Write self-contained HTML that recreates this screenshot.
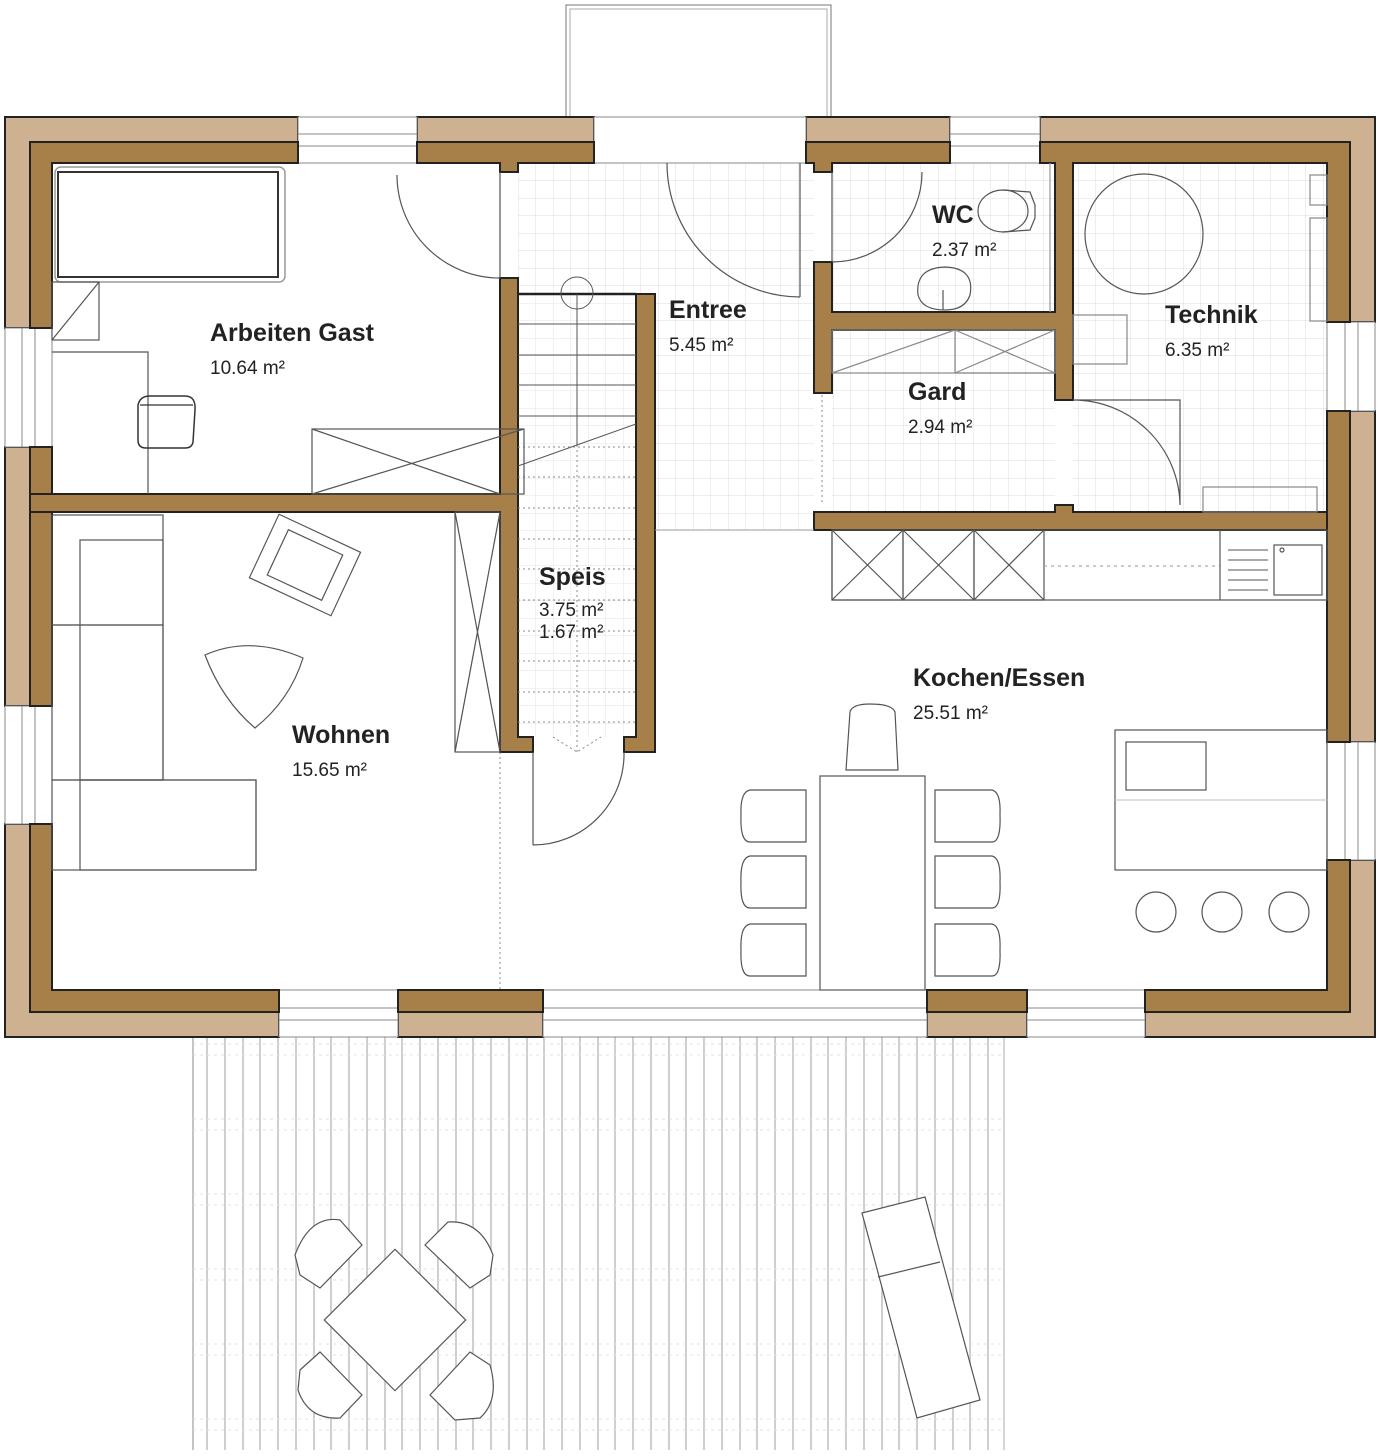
<!DOCTYPE html>
<html><head><meta charset="utf-8"><style>
html,body{margin:0;padding:0;background:#fff;}
svg{display:block;font-family:"Liberation Sans",Arial,sans-serif;}
.t{font-weight:bold;font-size:25px;fill:#222;}
.a{font-size:19px;fill:#222;}
.f{fill:none;stroke:#555;stroke-width:1.2;}
.g{fill:none;stroke:#999;stroke-width:1;}
</style></head><body>
<svg width="1380" height="1456" viewBox="0 0 1380 1456" xmlns="http://www.w3.org/2000/svg">
<defs>
<pattern id="tile" x="518" y="163" width="17.5" height="17.5" patternUnits="userSpaceOnUse">
<path d="M0 0H17.5M0 0V17.5" stroke="#dcdcdc" stroke-width="1" fill="none"/>
</pattern>
</defs>
<rect x="518" y="163" width="296" height="367" fill="url(#tile)"/>
<rect x="832" y="163" width="223" height="349" fill="url(#tile)"/>
<rect x="1073" y="163" width="254" height="349" fill="url(#tile)"/>
<rect x="518" y="294" width="118" height="443" fill="#fff"/>
<rect x="518" y="294" width="118" height="443" fill="url(#tile)" opacity="0.8"/>

<rect x="566" y="5" width="265" height="112" fill="none" stroke="#777" stroke-width="1"/>
<rect x="570" y="9" width="257" height="108" fill="none" stroke="#aaa" stroke-width="1"/>

<g stroke="#cfcfcf" stroke-width="2">
<line x1="207" y1="1037" x2="207" y2="1450"/><line x1="225" y1="1037" x2="225" y2="1450"/><line x1="243" y1="1037" x2="243" y2="1450"/><line x1="260" y1="1037" x2="260" y2="1450"/><line x1="278" y1="1037" x2="278" y2="1450"/><line x1="296" y1="1037" x2="296" y2="1450"/><line x1="314" y1="1037" x2="314" y2="1450"/><line x1="331" y1="1037" x2="331" y2="1450"/><line x1="349" y1="1037" x2="349" y2="1450"/><line x1="367" y1="1037" x2="367" y2="1450"/><line x1="385" y1="1037" x2="385" y2="1450"/><line x1="402" y1="1037" x2="402" y2="1450"/><line x1="420" y1="1037" x2="420" y2="1450"/><line x1="438" y1="1037" x2="438" y2="1450"/><line x1="456" y1="1037" x2="456" y2="1450"/><line x1="473" y1="1037" x2="473" y2="1450"/><line x1="491" y1="1037" x2="491" y2="1450"/><line x1="509" y1="1037" x2="509" y2="1450"/><line x1="527" y1="1037" x2="527" y2="1450"/><line x1="544" y1="1037" x2="544" y2="1450"/><line x1="562" y1="1037" x2="562" y2="1450"/><line x1="580" y1="1037" x2="580" y2="1450"/><line x1="598" y1="1037" x2="598" y2="1450"/><line x1="615" y1="1037" x2="615" y2="1450"/><line x1="633" y1="1037" x2="633" y2="1450"/><line x1="651" y1="1037" x2="651" y2="1450"/><line x1="669" y1="1037" x2="669" y2="1450"/><line x1="686" y1="1037" x2="686" y2="1450"/><line x1="704" y1="1037" x2="704" y2="1450"/><line x1="722" y1="1037" x2="722" y2="1450"/><line x1="740" y1="1037" x2="740" y2="1450"/><line x1="757" y1="1037" x2="757" y2="1450"/><line x1="775" y1="1037" x2="775" y2="1450"/><line x1="793" y1="1037" x2="793" y2="1450"/><line x1="811" y1="1037" x2="811" y2="1450"/><line x1="828" y1="1037" x2="828" y2="1450"/><line x1="846" y1="1037" x2="846" y2="1450"/><line x1="864" y1="1037" x2="864" y2="1450"/><line x1="882" y1="1037" x2="882" y2="1450"/><line x1="899" y1="1037" x2="899" y2="1450"/><line x1="917" y1="1037" x2="917" y2="1450"/><line x1="935" y1="1037" x2="935" y2="1450"/><line x1="953" y1="1037" x2="953" y2="1450"/><line x1="970" y1="1037" x2="970" y2="1450"/><line x1="988" y1="1037" x2="988" y2="1450"/>
</g>
<line x1="193" y1="1037" x2="193" y2="1450" stroke="#888"/>
<line x1="1004" y1="1037" x2="1004" y2="1450" stroke="#aaa"/>
<g stroke="#e2e2e2" stroke-dasharray="3,4">
<line x1="193" y1="1044" x2="1004" y2="1044"/><line x1="193" y1="1055" x2="1004" y2="1055"/>
<line x1="193" y1="1119" x2="1004" y2="1119"/><line x1="193" y1="1130" x2="1004" y2="1130"/>
<line x1="193" y1="1194" x2="1004" y2="1194"/><line x1="193" y1="1205" x2="1004" y2="1205"/>
<line x1="193" y1="1269" x2="1004" y2="1269"/><line x1="193" y1="1280" x2="1004" y2="1280"/>
<line x1="193" y1="1344" x2="1004" y2="1344"/><line x1="193" y1="1355" x2="1004" y2="1355"/>
<line x1="193" y1="1419" x2="1004" y2="1419"/><line x1="193" y1="1430" x2="1004" y2="1430"/>
</g>
<g fill="#fff" stroke="#555" stroke-width="1.2">
<rect x="345" y="1270" width="100" height="100" transform="rotate(45 395 1320)"/>
<path d="M295 1255 Q310 1215 340 1220 L362 1245 L320 1288 L300 1275 Z"/>
<path d="M425 1245 L448 1222 Q480 1220 493 1255 L490 1275 L470 1288 Z"/>
<path d="M300 1370 L320 1352 L362 1395 L340 1418 Q308 1420 298 1390 Z"/>
<path d="M430 1395 L470 1352 L490 1365 Q500 1400 480 1418 L455 1420 Z"/>
<path d="M862 1213 L925 1197 L980 1400 L917 1418 Z"/>
<line x1="878" y1="1277" x2="940" y2="1262"/>
</g>

<g fill="#CDB190" stroke="#222" stroke-width="2">
<path d="M5 117 H298 V142 H30 V328 H5 Z"/>
<rect x="417" y="117" width="177" height="25"/>
<rect x="806" y="117" width="144" height="25"/>
<path d="M1040 117 H1375 V322 H1350 V142 H1040 Z"/>
<rect x="5" y="447" width="25" height="259"/>
<rect x="1350" y="411" width="25" height="331"/>
<path d="M5 824 H30 V1012 H279 V1037 H5 Z"/>
<rect x="398" y="1012" width="145" height="25"/>
<rect x="927" y="1012" width="100" height="25"/>
<path d="M1145 1012 H1350 V860 H1375 V1037 H1145 Z"/>
</g>
<g fill="#fff" stroke="#888" stroke-width="1">
<rect x="298" y="117" width="119" height="46"/><line x1="298" y1="134" x2="417" y2="134"/><line x1="298" y1="146" x2="417" y2="146"/>
<rect x="950" y="117" width="90" height="46"/><line x1="950" y1="134" x2="1040" y2="134"/><line x1="950" y1="146" x2="1040" y2="146"/>
<rect x="594" y="117" width="212" height="46"/>
<rect x="5" y="328" width="47" height="119"/><line x1="22" y1="328" x2="22" y2="447"/><line x1="35" y1="328" x2="35" y2="447"/>
<rect x="5" y="706" width="47" height="118"/><line x1="22" y1="706" x2="22" y2="824"/><line x1="35" y1="706" x2="35" y2="824"/>
<rect x="1327" y="322" width="48" height="89"/><line x1="1345" y1="322" x2="1345" y2="411"/><line x1="1358" y1="322" x2="1358" y2="411"/>
<rect x="1327" y="742" width="48" height="118"/><line x1="1345" y1="742" x2="1345" y2="860"/><line x1="1358" y1="742" x2="1358" y2="860"/>
<rect x="279" y="990" width="119" height="47"/><line x1="279" y1="1008" x2="398" y2="1008"/><line x1="279" y1="1020" x2="398" y2="1020"/>
<rect x="543" y="990" width="384" height="47"/><line x1="543" y1="1008" x2="927" y2="1008"/><line x1="543" y1="1020" x2="927" y2="1020"/>
<rect x="1027" y="990" width="118" height="47"/><line x1="1027" y1="1008" x2="1145" y2="1008"/><line x1="1027" y1="1020" x2="1145" y2="1020"/>
</g>
<g fill="#A77F48" stroke="#222" stroke-width="2">
<path d="M30 142 H298 V163 H52 V328 H30 Z"/>
<path d="M417 142 H594 V163 H518 V172 H500 V163 H417 Z"/>
<path d="M806 142 H950 V163 H832 V172 H814 V163 H806 Z"/>
<path d="M1040 142 H1350 V322 H1327 V163 H1073 V312 H1073 V400 H1055 V330 H832 V393 H814 V262 H832 V312 H1055 V163 H1040 Z"/>
<rect x="30" y="447" width="22" height="259"/>
<rect x="1327" y="411" width="23" height="331"/>
<path d="M30 824 H52 V990 H279 V1012 H30 Z"/>
<rect x="398" y="990" width="145" height="22"/>
<rect x="927" y="990" width="100" height="22"/>
<path d="M1145 990 H1327 V860 H1350 V1012 H1145 Z"/>
<path d="M30 494 H500 V278 H518 V737 H533 V752 H500 V512 H52 V512 H30 Z"/>
<path d="M636 294 H655 V752 H624 V737 H636 Z"/>
<path d="M814 512 H1055 V505 H1073 V512 H1327 V530 H814 Z"/>
</g>
<line x1="518" y1="294" x2="636" y2="294" stroke="#222" stroke-width="2.5"/>
<line x1="655" y1="530" x2="814" y2="530" stroke="#999"/>

<g stroke="#555" stroke-width="1" fill="none">
<line x1="518" y1="324" x2="636" y2="324"/><line x1="518" y1="355" x2="636" y2="355"/><line x1="518" y1="385" x2="636" y2="385"/><line x1="518" y1="416" x2="636" y2="416"/>
<line x1="577" y1="294" x2="577" y2="445"/><circle cx="577" cy="293" r="16"/>
<line x1="518" y1="466" x2="636" y2="424"/>
</g>
<g stroke="#888" stroke-width="1" stroke-dasharray="2,3" fill="none">
<line x1="577" y1="445" x2="577" y2="752"/>
<line x1="518" y1="447" x2="636" y2="447"/><line x1="518" y1="477" x2="636" y2="477"/><line x1="518" y1="508" x2="636" y2="508"/><line x1="518" y1="539" x2="636" y2="539"/><line x1="518" y1="569" x2="636" y2="569"/><line x1="518" y1="600" x2="636" y2="600"/><line x1="518" y1="631" x2="636" y2="631"/><line x1="518" y1="661" x2="636" y2="661"/><line x1="518" y1="692" x2="636" y2="692"/><line x1="518" y1="722" x2="636" y2="722"/>
<path d="M553 737 L577 752 L601 737"/>
<line x1="500" y1="752" x2="500" y2="990"/>
<line x1="822" y1="395" x2="822" y2="505"/>
</g>

<g class="f">
<path d="M500 172 V278 M397 175 A103 103 0 0 0 500 278"/>
<path d="M800 163 V297 M667 163 A134 134 0 0 0 800 297"/>
<path d="M832 172 V262 M922 172 A90 90 0 0 1 832 262"/>
<path d="M1073 400 H1180 V505 M1073 400 A107 107 0 0 1 1180 505" />
<path d="M533 752 V845 M624 752 A91 91 0 0 1 533 845"/>
</g>

<g fill="#fff" stroke="#444" stroke-width="1.5">
<rect x="55" y="167" width="230" height="115" rx="6" stroke="#999"/>
<rect x="58" y="172" width="220" height="105" stroke="#333" stroke-width="2"/>
</g>
<g class="f" stroke="#777">
<rect x="52" y="282" width="47" height="58"/><line x1="52" y1="340" x2="99" y2="282"/>
<polyline points="52,352 148,352 148,494"/>
<rect x="312" y="429" width="212" height="65"/><line x1="312" y1="494" x2="524" y2="429"/><line x1="312" y1="429" x2="500" y2="494"/>
<path d="M138 405 Q140 396 150 396 L185 396 Q196 396 195 410 L193 442 Q192 448 185 448 L146 448 Q138 448 138 440 Z" stroke="#333" stroke-width="1.5"/>
<line x1="140" y1="405" x2="193" y2="405" stroke="#333"/>
</g>
<g class="f" stroke="#666">
<rect x="52" y="515" width="111" height="110"/>
<rect x="52" y="625" width="111" height="155"/>
<rect x="80" y="540" width="83" height="240"/>
<rect x="52" y="780" width="204" height="90"/>
<rect x="80" y="780" width="176" height="90"/>
<rect x="455" y="512" width="45" height="240"/><line x1="455" y1="512" x2="500" y2="752"/><line x1="500" y1="512" x2="455" y2="752"/>
<g transform="rotate(25 305 565)"><rect x="260" y="530" width="90" height="70"/><rect x="275" y="540" width="60" height="50"/></g>
<path d="M205 655 Q250 635 303 658 Q290 700 255 728 Q222 700 205 655 Z"/>
</g>
<g class="f" stroke="#555">
<ellipse cx="1003" cy="211" rx="25" ry="21"/><path d="M1003 190 L1030 192 L1035 205 L1035 218 L1030 230 L1003 232"/>
<path d="M918 295 Q915 268 945 267 Q975 268 970 295 Q965 310 945 310 Q922 310 918 295 Z"/>
<line x1="943" y1="290" x2="943" y2="310"/>
<line x1="1050" y1="163" x2="1050" y2="312" stroke="#999"/>
<rect x="832" y="330" width="223" height="43" stroke="#888"/><rect x="955" y="330" width="100" height="43" stroke="#888"/>
<line x1="832" y1="373" x2="955" y2="330" stroke="#888"/><line x1="955" y1="330" x2="1055" y2="373" stroke="#888"/><line x1="955" y1="373" x2="1055" y2="330" stroke="#888"/>
<ellipse cx="1144" cy="234" rx="59" ry="60"/>
<rect x="1073" y="315" width="54" height="49" stroke="#888"/>
<rect x="1310" y="175" width="17" height="30" stroke="#888"/><rect x="1310" y="218" width="17" height="103" stroke="#888"/>
<rect x="1203" y="487" width="114" height="25" stroke="#888"/>
</g>
<g class="f" stroke="#555">
<rect x="832" y="530" width="495" height="70"/>
<rect x="832" y="530" width="71" height="70"/><line x1="832" y1="530" x2="903" y2="600"/><line x1="903" y1="530" x2="832" y2="600"/>
<rect x="903" y="530" width="71" height="70"/><line x1="903" y1="530" x2="974" y2="600"/><line x1="974" y1="530" x2="903" y2="600"/>
<rect x="974" y="530" width="70" height="70"/><line x1="974" y1="530" x2="1044" y2="600"/><line x1="1044" y1="530" x2="974" y2="600"/>
<line x1="1044" y1="566" x2="1220" y2="566" stroke="#aaa" stroke-dasharray="3,4"/>
<line x1="1220" y1="530" x2="1220" y2="600"/>
<rect x="1274" y="545" width="48" height="50"/><circle cx="1282" cy="550" r="2"/>
<g stroke="#777"><line x1="1228" y1="550" x2="1268" y2="550"/><line x1="1228" y1="560" x2="1268" y2="560"/><line x1="1228" y1="570" x2="1268" y2="570"/><line x1="1228" y1="580" x2="1268" y2="580"/><line x1="1228" y1="590" x2="1268" y2="590"/></g>
<rect x="1115" y="730" width="212" height="140"/>
<rect x="1126" y="742" width="80" height="48"/>
<line x1="1115" y1="800" x2="1327" y2="800" stroke="#ccc"/>
<circle cx="1156" cy="912" r="20"/><circle cx="1222" cy="912" r="20"/><circle cx="1289" cy="912" r="20"/>
<rect x="820" y="776" width="105" height="214"/>
<path d="M846 770 L850 712 Q852 704 870 704 Q892 704 895 712 L898 770 Z"/>
<path d="M806 790 V842 L750 842 Q740 842 741 815 Q740 792 750 790 Z"/>
<path d="M806 856 V908 L750 908 Q740 908 741 882 Q740 858 750 856 Z"/>
<path d="M806 924 V976 L750 976 Q740 976 741 950 Q740 926 750 924 Z"/>
<path d="M935 790 V842 L992 842 Q1001 842 1000 815 Q1001 792 992 790 Z"/>
<path d="M935 856 V908 L992 908 Q1001 908 1000 882 Q1001 858 992 856 Z"/>
<path d="M935 924 V976 L992 976 Q1001 976 1000 950 Q1001 926 992 924 Z"/>
</g>

<text class="t" x="210" y="341">Arbeiten Gast</text><text class="a" x="210" y="374">10.64 m²</text>
<text class="t" x="669" y="318">Entree</text><text class="a" x="669" y="351">5.45 m²</text>
<text class="t" x="932" y="223">WC</text><text class="a" x="932" y="256">2.37 m²</text>
<text class="t" x="1165" y="323">Technik</text><text class="a" x="1165" y="356">6.35 m²</text>
<text class="t" x="908" y="400">Gard</text><text class="a" x="908" y="433">2.94 m²</text>
<text class="t" x="539" y="585">Speis</text><text class="a" x="539" y="616">3.75 m²</text><text class="a" x="539" y="638">1.67 m²</text>
<text class="t" x="913" y="686">Kochen/Essen</text><text class="a" x="913" y="719">25.51 m²</text>
<text class="t" x="292" y="743">Wohnen</text><text class="a" x="292" y="776">15.65 m²</text>
</svg>
</body></html>
